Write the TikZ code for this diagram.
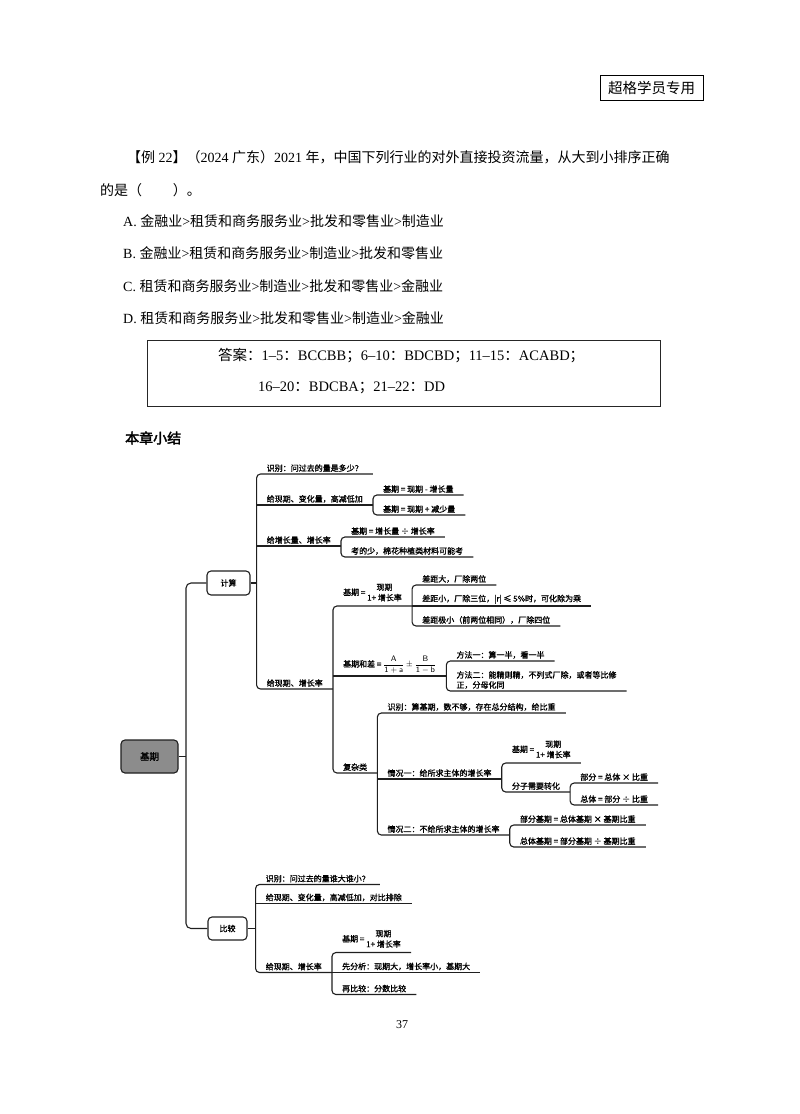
\documentclass[tikz,border=0pt]{standalone}
\usepackage{amsmath}
\usepackage{fontspec}
\setmainfont{Liberation Serif}
\newfontfamily\cn{Noto Sans CJK SC}[AutoFakeBold=2.5]
\newfontfamily\cnmap{Noto Sans CJK SC}[FakeBold=1.3]
\usetikzlibrary{calc,positioning}

\newcommand{\zh}[1]{{\cn #1}}
\newcommand{\mapfont}{\cnmap\fontsize{8}{10}\selectfont}
\newcommand{\twoline}[2]{\renewcommand{\arraystretch}{1.05}\begin{tabular}{@{}c@{}}#1\\#2\end{tabular}}

\begin{document}
\begin{tikzpicture}[
    x=1pt, y=-1pt,
    body/.style={anchor=west, inner sep=0pt, font=\fontsize{14}{16}\selectfont},
    leaf/.style={anchor=south west, inner xsep=10pt, inner ysep=2pt, font=\mapfont},
    bar/.style={line width=1.1pt, draw=black!88},
    topic/.style={draw=black!88, line width=1.1pt, rounded corners=4pt, font=\mapfont,
                  minimum width=43pt, minimum height=24pt, inner sep=0pt},
  ]
  \useasboundingbox (0,0) rectangle (800,1114);

  % ---- page text -----------------------------------------------------
  \node[draw, line width=0.9pt, minimum width=103pt, minimum height=25pt, inner sep=0pt,
        font=\cn\fontsize{14.5}{16}\selectfont] (tag) at (651.5,87.5) {超格学员专用};

  \node[body] (ex1) at (127,157) {\zh{【例} 22\zh{】（}2024 \zh{广东）}2021 \zh{年，中国下列行业的对外直接投资流量，从大到小排序正确}};
  \node[body] (ex2) at (100,190) {\zh{的是（}\hspace{2.2em}\zh{）。}};
  \node[body] (optA) at (123,221) {A. \zh{金融业}>\zh{租赁和商务服务业}>\zh{批发和零售业}>\zh{制造业}};
  \node[body] (optB) at (123,253) {B. \zh{金融业}>\zh{租赁和商务服务业}>\zh{制造业}>\zh{批发和零售业}};
  \node[body] (optC) at (123,286) {C. \zh{租赁和商务服务业}>\zh{制造业}>\zh{批发和零售业}>\zh{金融业}};
  \node[body] (optD) at (123,318) {D. \zh{租赁和商务服务业}>\zh{批发和零售业}>\zh{制造业}>\zh{金融业}};

  % answer frame
  \draw[line width=0.8pt, black!85] (147,340) rectangle (660,406);
  \node[body, font=\fontsize{14.5}{16}\selectfont] (ans1) at (218,356)
    {\zh{答案：}1–5\zh{：}BCCBB\zh{；}6–10\zh{：}BDCBD\zh{；}11–15\zh{：}ACABD\zh{；}};
  \node[body, font=\fontsize{14.5}{16}\selectfont] (ans2) at (258,388)
    {16–20\zh{：}BDCBA\zh{；}21–22\zh{：}DD};

  \node[body, font=\cn\bfseries\fontsize{14}{16}\selectfont] (summary) at (125,438) {本章小结};
  \node[font=\fontsize{12}{14}\selectfont] (pageno) at (402,1025) {37};

  % ---- root and trunk ------------------------------------------------
  \node[topic, fill=black!45, minimum width=57pt, minimum height=33pt,
        font=\cnmap\fontsize{9.5}{11}\selectfont] (root) at (149.5,756.5) {基期};
  \coordinate (trunk) at (186,756.5);
  \node[topic] (jisuan) at (228.5,583) {计算};
  \node[topic, minimum width=39pt, minimum height=23pt] (bijiao) at (227.5,928.5) {比较};

  \draw[bar] (root.east) -- (trunk);
  \draw[bar, rounded corners=5pt] (jisuan.west) -- (jisuan.west -| trunk)
    -- (bijiao.west -| trunk) -- (bijiao.west);

  % ---- 计算 ----------------------------------------------------------
  \node[leaf] (k1) at ($(jisuan.east)+(6,-109)$) {识别：问过去的量是多少？};
  \node[leaf] (k2) at ($(jisuan.east)+(6,-78)$) {给现期、变化量，高减低加};
  \node[leaf] (k3) at ($(jisuan.east)+(6,-37)$) {给增长量、增长率};
  \node[leaf] (k4) at ($(jisuan.east)+(6,106)$) {给现期、增长率};
  \draw[bar] (jisuan.east) -- (jisuan.east -| k1.south west);
  \draw[bar, rounded corners=4pt] (k1.south east) -- (k1.south west) -- (k4.south west) -- (k4.south east);
  \foreach \n in {k2,k3} \draw[bar] (\n.south west) -- (\n.south east);

  % change known
  \node[leaf] (k2a) at ($(k2.south east)+(0,-10)$) {基期 = 现期 - 增长量};
  \node[leaf] (k2b) at ($(k2.south east)+(0,10)$) {基期 = 现期 + 减少量};
  \draw[bar, rounded corners=4pt] (k2a.south east) -- (k2a.south west) -- (k2b.south west) -- (k2b.south east);

  % growth known
  \node[leaf] (k3a) at ($(k3.south east)+(0,-9)$) {基期 = 增长量 ÷ 增长率};
  \node[leaf] (k3b) at ($(k3.south east)+(0,11)$) {考的少，棉花种植类材料可能考};
  \draw[bar, rounded corners=4pt] (k3a.south east) -- (k3a.south west) -- (k3b.south west) -- (k3b.south east);

  % rate known
  \node[leaf] (k4a) at ($(k4.south east)+(0,-83)$) {基期 = \twoline{现期}{1+ 增长率}};
  \node[leaf] (k4b) at ($(k4.south east)+(0,-13)$)
    {基期和差 = $\dfrac{\mathsf{A}}{\mathsf{1+a}}\pm\dfrac{\mathsf{B}}{\mathsf{1-b}}$};
  \node[leaf] (k4c) at ($(k4.south east)+(0,84)$) {复杂类};
  \draw[bar, rounded corners=4pt] (k4a.south east) -- (k4a.south west) -- (k4c.south west) -- (k4c.south east);
  \draw[bar] (k4b.south west) -- (k4b.south east);

  \node[leaf] (k4a1) at ($(k4a.south east)+(0,-21)$) {差距大，厂除两位};
  \node[leaf] (k4a2) at ($(k4a.south east)+(0,0)$) {差距小，厂除三位，|r| ≤ 5\%时，可化除为乘};
  \node[leaf] (k4a3) at ($(k4a.south east)+(0,20)$) {差距极小（前两位相同），厂除四位};
  \draw[bar, rounded corners=4pt] (k4a1.south east) -- (k4a1.south west) -- (k4a3.south west) -- (k4a3.south east);
  \draw[bar] (k4a2.south west) -- (k4a2.south east);

  \node[leaf] (k4b1) at ($(k4b.south east)+(0,-15)$) {方法一：算一半，看一半};
  \node[leaf, align=left] (k4b2) at ($(k4b.south east)+(0,15)$)
    {方法二：能精则精，不列式厂除，或者等比修\\正，分母化同};
  \draw[bar, rounded corners=4pt] (k4b1.south east) -- (k4b1.south west) -- (k4b2.south west) -- (k4b2.south east);

  % complex case
  \node[leaf] (k4c1) at ($(k4c.south east)+(0,-60)$) {识别：算基期，数不够，存在总分结构，给比重};
  \node[leaf] (k4c2) at ($(k4c.south east)+(0,6)$) {情况一：给所求主体的增长率};
  \node[leaf] (k4c3) at ($(k4c.south east)+(0,62)$) {情况二：不给所求主体的增长率};
  \draw[bar, rounded corners=4pt] (k4c1.south east) -- (k4c1.south west) -- (k4c3.south west) -- (k4c3.south east);
  \draw[bar] (k4c2.south west) -- (k4c2.south east);

  \node[leaf] (q1a) at ($(k4c2.south east)+(0,-16)$) {基期 = \twoline{现期}{1+ 增长率}};
  \node[leaf] (q1b) at ($(k4c2.south east)+(0,13)$) {分子需要转化};
  \draw[bar, rounded corners=4pt] (q1a.south east) -- (q1a.south west) -- (q1b.south west) -- (q1b.south east);

  \node[leaf] (q1b1) at ($(q1b.south east)+(0,-9)$) {部分 = 总体 × 比重};
  \node[leaf] (q1b2) at ($(q1b.south east)+(0,13)$) {总体 = 部分 ÷ 比重};
  \draw[bar, rounded corners=4pt] (q1b1.south east) -- (q1b1.south west) -- (q1b2.south west) -- (q1b2.south east);

  \node[leaf] (q2a) at ($(k4c3.south east)+(0,-10)$) {部分基期 = 总体基期 × 基期比重};
  \node[leaf] (q2b) at ($(k4c3.south east)+(0,12)$) {总体基期 = 部分基期 ÷ 基期比重};
  \draw[bar, rounded corners=4pt] (q2a.south east) -- (q2a.south west) -- (q2b.south west) -- (q2b.south east);

  % ---- 比较 ----------------------------------------------------------
  \node[leaf] (b1) at ($(bijiao.east)+(8,-44)$) {识别：问过去的量谁大谁小？};
  \node[leaf] (b2) at ($(bijiao.east)+(8,-25)$) {给现期、变化量，高减低加，对比排除};
  \node[leaf] (b3) at ($(bijiao.east)+(8,44)$) {给现期、增长率};
  \draw[bar] (bijiao.east) -- (bijiao.east -| b1.south west);
  \draw[bar, rounded corners=4pt] (b1.south east) -- (b1.south west) -- (b3.south west) -- (b3.south east);
  \draw[bar] (b2.south west) -- (b2.south east);

  \node[leaf] (b3a) at ($(b3.south east)+(0,-20)$) {基期 = \twoline{现期}{1+ 增长率}};
  \node[leaf] (b3b) at ($(b3.south east)+(0,0)$) {先分析：现期大，增长率小，基期大};
  \node[leaf] (b3c) at ($(b3.south east)+(0,22)$) {再比较：分数比较};
  \draw[bar, rounded corners=4pt] (b3a.south east) -- (b3a.south west) -- (b3c.south west) -- (b3c.south east);
  \draw[bar] (b3b.south west) -- (b3b.south east);

\end{tikzpicture}
\end{document}
